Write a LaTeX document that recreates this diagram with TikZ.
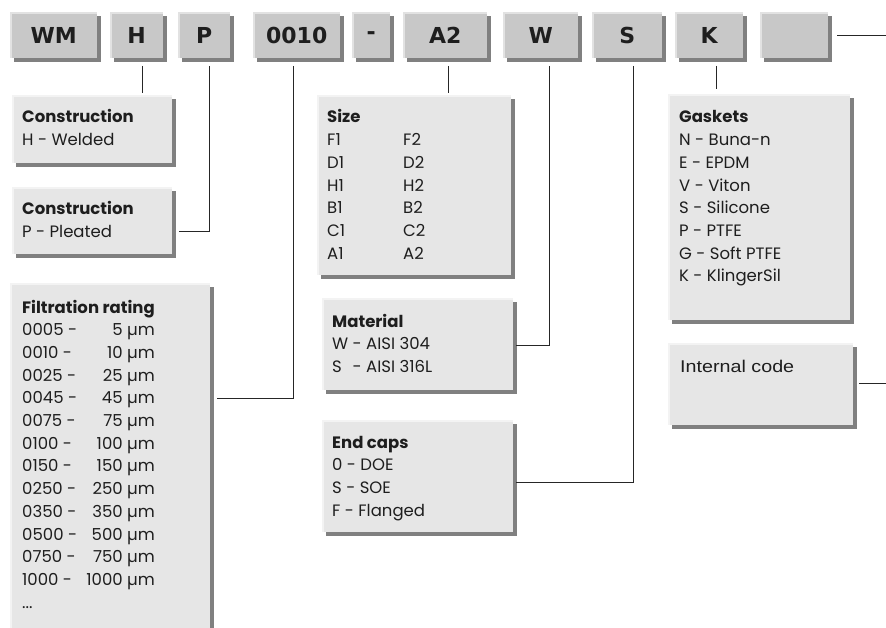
\documentclass[tikz,border=0pt]{standalone}
\usepackage{fontspec}
\setmainfont{Poppins}
\newfontfamily\codefont{DejaVu Sans}
\newfontfamily\arialfont{Liberation Sans}[FakeStretch=1.16]
\usetikzlibrary{shadows,calc}
\definecolor{topfill}{HTML}{C8C8C8}
\definecolor{tophi}{HTML}{E2E2E2}
\definecolor{infofill}{HTML}{E6E6E6}
\definecolor{infohi}{HTML}{F3F3F3}
\definecolor{shade}{HTML}{808080}
\definecolor{txt}{HTML}{1E1E1E}
\tikzset{
  topbox/.style={anchor=north west, fill=topfill, minimum height=46pt, inner sep=0pt,
    drop shadow={shadow xshift=4pt, shadow yshift=-4pt, fill=shade, opacity=1},
    path picture={\draw[tophi, line width=3pt] (path picture bounding box.south west) -- (path picture bounding box.north west) -- (path picture bounding box.north east);},
    font=\codefont\bfseries\fontsize{22}{26}\selectfont, text=txt},
  infobox/.style={anchor=north west, fill=infofill, inner sep=0pt,
    drop shadow={shadow xshift=3.5pt, shadow yshift=-3.5pt, fill=shade, opacity=1},
    path picture={\draw[infohi, line width=3pt] (path picture bounding box.south west) -- (path picture bounding box.north west) -- (path picture bounding box.north east);}},
  infotext/.style={anchor=base west, inner sep=0pt, font=\fontsize{16.5}{22.7}\selectfont, text=txt},
  conn/.style={draw=black!85, line width=1pt}
}
\begin{document}
\begin{tikzpicture}[x=1pt,y=-1pt]
\useasboundingbox (0,0) rectangle (886,628);
% top code boxes
\node[topbox, minimum width=87pt] (WM) at (10,12) {WM};
\node[topbox, minimum width=53pt] (H) at (110,12) {H};
\node[topbox, minimum width=52pt] (P) at (178,12) {P};
\node[topbox, minimum width=87pt] (N) at (253,12) {0010};
\node[topbox, minimum width=38pt] (D) at (352,12) {-};
\node[topbox, minimum width=84pt] (A) at (403,12) {A2};
\node[topbox, minimum width=75pt] (W) at (503,12) {W};
\node[topbox, minimum width=70pt] (S) at (592,12) {S};
\node[topbox, minimum width=68pt] (K) at (675,12) {K};
\node[topbox, minimum width=68pt] (X) at (760,12) {};
% info boxes
\begin{scope}
\clip (0,0) rectangle (886,628);
\node[infobox, minimum width=160pt, minimum height=68pt] (hbox) at (12,95) {};
\node[infobox, minimum width=160pt, minimum height=67pt] (pbox) at (12,187) {};
\node[infobox, minimum width=200pt, minimum height=360pt] (fbox) at (10,283) {};
\node[infobox, minimum width=194pt, minimum height=180pt] (sizebox) at (317,95) {};
\node[infobox, minimum width=191pt, minimum height=92pt] (matbox) at (322,298) {};
\node[infobox, minimum width=191pt, minimum height=112pt] (endbox) at (322,420) {};
\node[infobox, minimum width=182pt, minimum height=226pt] (gasbox) at (668,94) {};
\node[infobox, minimum width=185pt, minimum height=82pt] (intbox) at (668,343) {};
\end{scope}
% texts
\node[infotext] (htext) at (22,123) {\begin{tabular}[t]{@{}l@{}}\bfseries Construction\\ H - Welded\end{tabular}};
\node[infotext] (ptext) at (22,215) {\begin{tabular}[t]{@{}l@{}}\bfseries Construction\\ P - Pleated\end{tabular}};
\node[infotext] (ftext) at (22,313) {\begin{tabular}[t]{@{}l@{\ }r@{\ µm}}
\multicolumn{2}{@{}l@{}}{\bfseries Filtration rating}\\
0005 - & 5\\ 0010 - & 10\\ 0025 - & 25\\ 0045 - & 45\\ 0075 - & 75\\
0100 - & 100\\ 0150 - & 150\\ 0250 - & 250\\ 0350 - & 350\\ 0500 - & 500\\
0750 - & 750\\ 1000 - & 1000\\
\multicolumn{2}{@{}l@{}}{...}
\end{tabular}};
\node[infotext] (stext) at (327,123) {\begin{tabular}[t]{@{}p{76pt}@{}l@{}}
\multicolumn{2}{@{}l@{}}{\bfseries Size}\\
F1 & F2\\ D1 & D2\\ H1 & H2\\ B1 & B2\\ C1 & C2\\ A1 & A2
\end{tabular}};
\node[infotext] (mtext) at (332,327) {\begin{tabular}[t]{@{}l@{\ }l@{}}
\multicolumn{2}{@{}l@{}}{\bfseries Material}\\
W & - AISI 304\\ S & - AISI 316L
\end{tabular}};
\node[infotext] (etext) at (332,448) {\begin{tabular}[t]{@{}l@{}}\bfseries End caps\\ 0 - DOE\\ S - SOE\\ F - Flanged\end{tabular}};
\node[infotext] (gtext) at (679,123) {\begin{tabular}[t]{@{}l@{}}\bfseries Gaskets\\ N - Buna-n\\ E - EPDM\\ V - Viton\\ S - Silicone\\ P - PTFE\\ G - Soft PTFE\\ K - KlingerSil\end{tabular}};
\node[infotext, font=\arialfont\fontsize{17}{22}\selectfont] (itext) at (680,372) {Internal code};
% connector points
\coordinate (jH1) at (142,66); \coordinate (jH2) at (142,93);
\coordinate (jP1) at (209,66); \coordinate (jP2) at (179,232);
\coordinate (jN1) at (293,66); \coordinate (jN2) at (217,398);
\coordinate (jA1) at (448,66); \coordinate (jA2) at (448,93);
\coordinate (jW1) at (549,66); \coordinate (jW2) at (516,345);
\coordinate (jS1) at (633,66); \coordinate (jS2) at (516,482);
\coordinate (jK1) at (716,66); \coordinate (jK2) at (716,89);
\coordinate (jX1) at (837,36); \coordinate (jX2) at (886,36);
\coordinate (jI1) at (859,383); \coordinate (jI2) at (886,383);
\draw[conn] (jH1) -- (jH2);
\draw[conn] (jP1) |- (jP2);
\draw[conn] (jN1) |- (jN2);
\draw[conn] (jA1) -- (jA2);
\draw[conn] (jW1) |- (jW2);
\draw[conn] (jS1) |- (jS2);
\draw[conn] (jK1) -- (jK2);
\draw[conn] (jX1) -- (jX2);
\draw[conn] (jI1) -- (jI2);
\end{tikzpicture}
\end{document}
